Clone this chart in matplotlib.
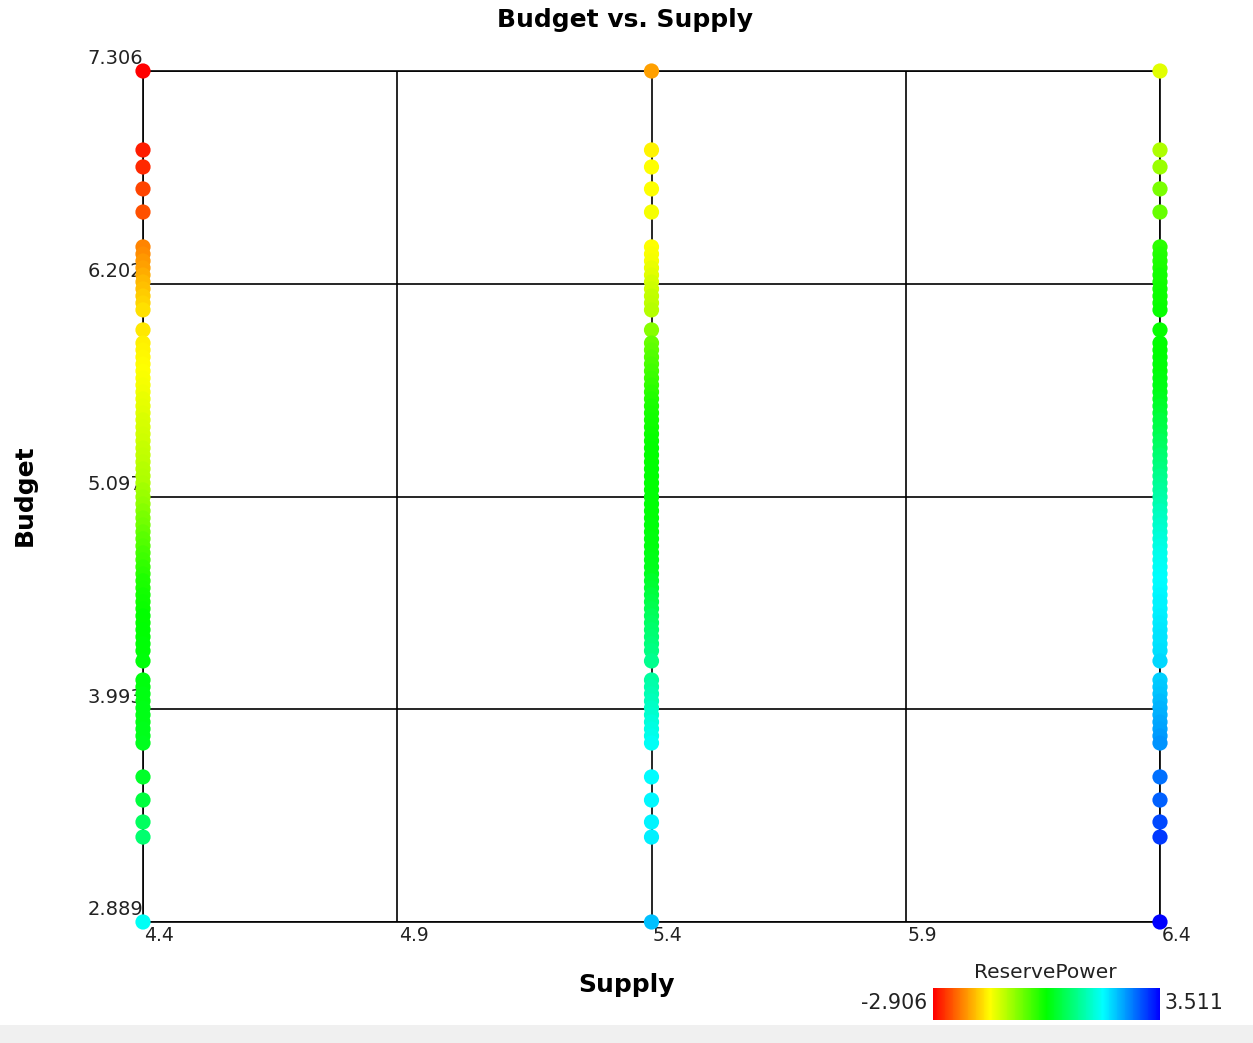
import numpy as np
import matplotlib.pyplot as plt
from matplotlib.colors import LinearSegmentedColormap
from matplotlib.patches import Rectangle
from matplotlib.transforms import ScaledTranslation

supply_levels = [4.4, 5.4, 6.4]

budget = [
    7.306,
    6.896, 6.808, 6.694, 6.574,
    6.393, 6.356, 6.320, 6.284, 6.247, 6.211, 6.175, 6.138, 6.102, 6.066,
    5.962,
    5.894, 5.858, 5.821, 5.785, 5.749, 5.712, 5.676, 5.640, 5.604, 5.567,
    5.531, 5.495, 5.458, 5.422, 5.386, 5.349, 5.313, 5.277, 5.241, 5.204,
    5.168, 5.132, 5.095, 5.059, 5.023, 4.986, 4.950, 4.914, 4.878, 4.841,
    4.805, 4.769, 4.732, 4.696, 4.660, 4.623, 4.587, 4.551, 4.515, 4.478,
    4.442, 4.406, 4.369, 4.333, 4.297,
    4.244,
    4.145, 4.109, 4.073, 4.036, 4.000, 3.964, 3.927, 3.891, 3.855, 3.818,
    3.642, 3.522, 3.408, 3.330,
    2.889,
]

reserve_44 = [
    -2.906,
    -2.71, -2.65, -2.46, -2.39,
    -2.07, -2.01, -1.94, -1.88, -1.82, -1.75, -1.69, -1.62, -1.56, -1.49,
    -1.43,
    -1.38, -1.36, -1.34, -1.32, -1.30, -1.27, -1.24, -1.21, -1.17, -1.14,
    -1.11, -1.07, -1.04, -1.01, -0.98, -0.94, -0.91, -0.88, -0.85, -0.81,
    -0.78, -0.72, -0.66, -0.60, -0.53, -0.47, -0.40, -0.34, -0.27, -0.21,
    -0.14, -0.08, -0.02, 0.05, 0.11, 0.15, 0.19, 0.22, 0.25, 0.28,
    0.30, 0.31, 0.32, 0.33, 0.34,
    0.36,
    0.38, 0.40, 0.41, 0.42, 0.43, 0.44, 0.45, 0.46, 0.47, 0.48,
    0.56, 0.69, 0.88, 1.00,
    1.84,
]

reserve_54 = [
    -1.88,
    -1.37, -1.30, -1.30, -1.24,
    -1.30, -1.27, -1.24, -1.17, -1.11, -1.05, -0.98, -0.92, -0.88, -0.85,
    -0.53,
    -0.34, -0.28, -0.21, -0.15, -0.10, -0.05, 0.00, 0.05, 0.09, 0.13,
    0.16, 0.19, 0.22, 0.25, 0.27, 0.29, 0.30, 0.30, 0.31, 0.31,
    0.32, 0.32, 0.33, 0.33, 0.34, 0.35, 0.36, 0.37, 0.38, 0.40,
    0.42, 0.44, 0.46, 0.50, 0.56, 0.62, 0.68, 0.74, 0.80, 0.86,
    0.92, 0.97, 1.02, 1.07, 1.12,
    1.20,
    1.30, 1.36, 1.42, 1.48, 1.54, 1.60, 1.66, 1.72, 1.78, 1.84,
    1.91, 1.94, 1.97, 2.00,
    2.30,
]

reserve_64 = [
    -1.11,
    -0.79, -0.66, -0.47, -0.34,
    0.05, 0.09, 0.12, 0.15, 0.18, 0.20, 0.22, 0.24, 0.25, 0.26,
    0.27,
    0.28, 0.30, 0.31, 0.33, 0.35, 0.38, 0.41, 0.45, 0.50, 0.56,
    0.62, 0.68, 0.74, 0.80, 0.86, 0.92, 0.98, 1.04, 1.10, 1.16,
    1.22, 1.28, 1.34, 1.40, 1.46, 1.52, 1.57, 1.62, 1.67, 1.72,
    1.76, 1.80, 1.84, 1.87, 1.90, 1.92, 1.94, 1.96, 1.98, 2.00,
    2.02, 2.04, 2.06, 2.08, 2.10,
    2.15,
    2.20, 2.24, 2.28, 2.32, 2.36, 2.40, 2.44, 2.48, 2.52, 2.56,
    2.80, 2.90, 3.05, 3.15,
    3.511,
]

x_ticks = [4.4, 4.9, 5.4, 5.9, 6.4]
y_ticks = [2.889, 3.993, 5.097, 6.202, 7.306]
reserve_min, reserve_max = -2.906, 3.511

cmap = LinearSegmentedColormap.from_list(
    "rygcb", ["#ff0000", "#ffff00", "#00ff00", "#00ffff", "#0000ff"])

fig = plt.figure(figsize=(12.53, 10.43), dpi=100)
ax = fig.add_axes([143 / 1253, 1 - 922 / 1043, 1017 / 1253, 851 / 1043])

for s, r in zip(supply_levels, [reserve_44, reserve_54, reserve_64]):
    sc = ax.scatter([s] * len(budget), budget, c=r, cmap=cmap,
                    vmin=reserve_min, vmax=reserve_max, s=120,
                    linewidths=0, zorder=3, clip_on=False)

ax.set_xlim(4.4, 6.4)
ax.set_ylim(2.889, 7.306)
ax.set_xticks(x_ticks)
ax.set_yticks(y_ticks)
ax.set_xticklabels([str(v) for v in x_ticks], ha="left", fontsize=13.5,
                   color="#222222")
ax.set_yticklabels([f"{v:.3f}" for v in y_ticks], va="bottom", fontsize=14,
                   color="#222222")
ax.tick_params(length=0)
ax.tick_params(axis="x", pad=3)
ax.tick_params(axis="y", pad=0)
for lbl in ax.get_yticklabels():
    lbl.set_transform(lbl.get_transform() +
                      ScaledTranslation(0, 2 / 72, fig.dpi_scale_trans))
for lbl in ax.get_xticklabels():
    lbl.set_transform(lbl.get_transform() +
                      ScaledTranslation(1 / 72, 0, fig.dpi_scale_trans))
ax.grid(True, color="black", linewidth=1.2, zorder=1)
for sp in ax.spines.values():
    sp.set_color("black")
    sp.set_linewidth(1.2)

fig.text(625 / 1253, 1 - 20 / 1043, "Budget vs. Supply", ha="center",
         va="center", fontsize=18, fontweight="bold")
fig.text(626 / 1253, 1 - 985 / 1043, "Supply", ha="center", va="center",
         fontsize=18, fontweight="bold")
fig.text(25 / 1253, 1 - 495 / 1043, "Budget", ha="center", va="center",
         rotation=90, fontsize=18, fontweight="bold")

# colour scale legend in the lower right
cax = fig.add_axes([933 / 1253, 1 - 1020 / 1043, 227 / 1253, 32 / 1043])
cb = fig.colorbar(sc, cax=cax, orientation="horizontal")
cb.set_ticks([])
cb.outline.set_visible(False)
fig.text(1045 / 1253, 1 - 972 / 1043, "ReservePower", ha="center",
         va="center", fontsize=14.5, color="#222222")
fig.text(927 / 1253, 1 - 1003 / 1043, f"{reserve_min:.3f}", ha="right",
         va="center", fontsize=14.8, color="#222222")
fig.text(1165 / 1253, 1 - 1003 / 1043, f"{reserve_max:.3f}", ha="left",
         va="center", fontsize=14.8, color="#222222")

fig.patches.append(Rectangle((0, 0), 1, 18 / 1043, transform=fig.transFigure,
                             facecolor="#f0f0f0", edgecolor="none"))

plt.savefig("out.png", dpi=100)
